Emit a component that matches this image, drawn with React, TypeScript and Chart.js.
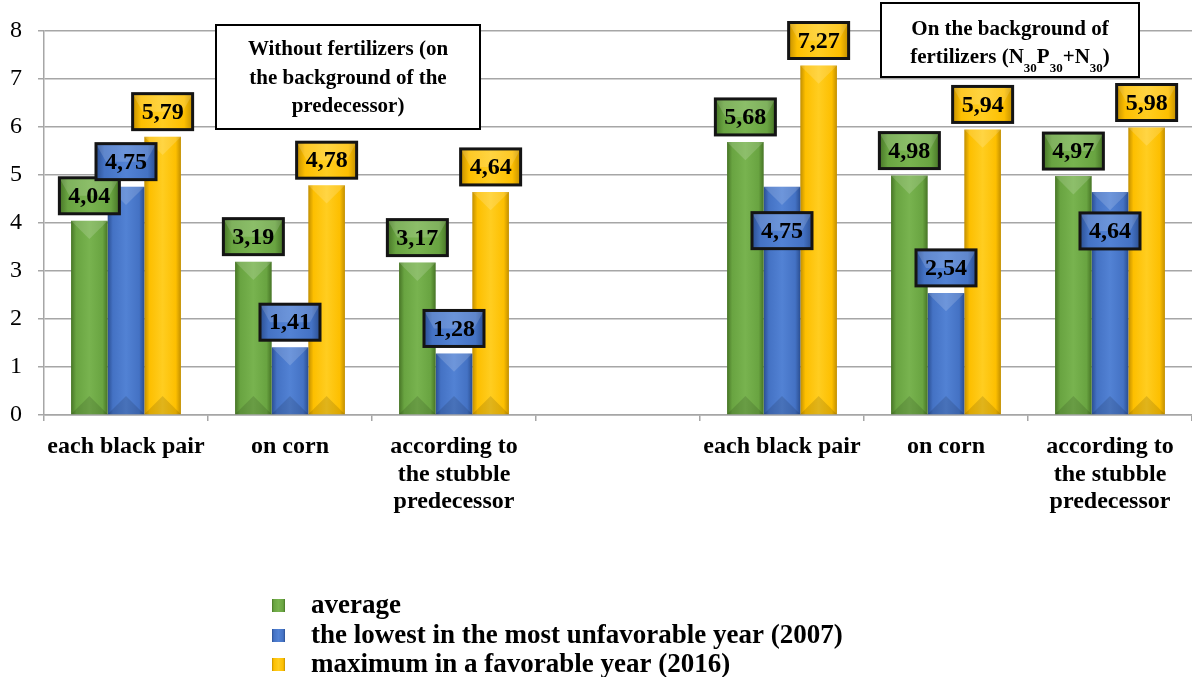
import React, { useEffect, useRef } from "react";
import { Chart, registerables } from "chart.js";

Chart.register(...registerables);

const categories: (string | string[])[] = [
  "each black pair",
  "on corn",
  ["according to", "the stubble", "predecessor"],
  "",
  "each black pair",
  "on corn",
  ["according to", "the stubble", "predecessor"],
];
const averageValues = [4.04, 3.19, 3.17, null, 5.68, 4.98, 4.97];
const lowestValues = [4.75, 1.41, 1.28, null, 4.75, 2.54, 4.64];
const maximumValues = [5.79, 4.78, 4.64, null, 7.27, 5.94, 5.98];
const seriesNames = [
  "average",
  "the lowest in the most unfavorable year (2007)",
  "maximum in a favorable year (2016)",
];
const yMin = 0;
const yMax = 8;
const yStep = 1;
const noteLeft = ["Without fertilizers (on", "the background of the", "predecessor)"];
const noteRightLine1 = "On the background of";

const FONT = "'Liberation Serif', 'Times New Roman', Times, serif";
const CAT_PCT = 0.67;

const palette = [
  { dark: "#477526", mid: "#69a441", light: "#78b34f" },
  { dark: "#2b4f92", mid: "#4472c4", light: "#5282d4" },
  { dark: "#c28f00", mid: "#fdbf00", light: "#ffcd20" },
];

function barGradient(g2: CanvasRenderingContext2D, left: number, right: number, c: { dark: string; mid: string; light: string }) {
  const g = g2.createLinearGradient(left, 0, right, 0);
  g.addColorStop(0, c.dark);
  g.addColorStop(0.14, c.mid);
  g.addColorStop(0.5, c.light);
  g.addColorStop(0.86, c.mid);
  g.addColorStop(1, c.dark);
  return g;
}

const fmt = (v: number) => v.toFixed(2).replace(".", ",");

const decorPlugin = {
  id: "decor",
  afterDatasetsDraw(chart: any, _args: any, opts: any) {
    const ctx: CanvasRenderingContext2D = chart.ctx;
    const shifts: Record<string, number> = opts.shifts || {};
    // bevel highlights
    chart.data.datasets.forEach((_ds: any, di: number) => {
      const meta = chart.getDatasetMeta(di);
      meta.data.forEach((bar: any) => {
        if (!isFinite(bar.y)) return;
        const l = bar.x - bar.width / 2;
        const r = bar.x + bar.width / 2;
        const d = Math.min(bar.width / 2, Math.abs(bar.base - bar.y) / 2);
        ctx.save();
        ctx.beginPath();
        ctx.moveTo(l, bar.y);
        ctx.lineTo(r, bar.y);
        ctx.lineTo(bar.x, bar.y + d);
        ctx.closePath();
        ctx.fillStyle = "rgba(255,255,255,0.16)";
        ctx.fill();
        ctx.beginPath();
        ctx.moveTo(l, bar.base);
        ctx.lineTo(r, bar.base);
        ctx.lineTo(bar.x, bar.base - d);
        ctx.closePath();
        ctx.fillStyle = "rgba(0,0,0,0.12)";
        ctx.fill();
        ctx.restore();
      });
    });
    // value boxes
    chart.data.datasets.forEach((ds: any, di: number) => {
      const meta = chart.getDatasetMeta(di);
      meta.data.forEach((bar: any, i: number) => {
        const v = ds.data[i];
        if (v == null || !isFinite(bar.y)) return;
        const w = 60;
        const h = 36;
        const shift = shifts[`${di}-${i}`] || 0;
        const top = bar.y - 7 - h + shift;
        const left = bar.x - w / 2;
        ctx.save();
        ctx.fillStyle = barGradient(ctx, left, left + w, palette[di]);
        ctx.fillRect(left, top, w, h);
        ctx.beginPath();
        ctx.moveTo(left, top);
        ctx.lineTo(left + w, top);
        ctx.lineTo(left + w - 10, top + h / 2);
        ctx.lineTo(left + 10, top + h / 2);
        ctx.closePath();
        ctx.fillStyle = "rgba(255,255,255,0.15)";
        ctx.fill();
        ctx.lineWidth = 3;
        ctx.strokeStyle = "#141414";
        ctx.strokeRect(left, top, w, h);
        ctx.fillStyle = "#000";
        ctx.font = `bold 24px ${FONT}`;
        ctx.textAlign = "center";
        ctx.textBaseline = "middle";
        ctx.fillText(fmt(v), bar.x, top + h / 2 + 1);
        ctx.restore();
      });
    });
  },
  afterDraw(chart: any) {
    const ctx: CanvasRenderingContext2D = chart.ctx;
    ctx.save();
    // left note
    ctx.fillStyle = "#fff";
    ctx.fillRect(216, 25, 264, 104);
    ctx.lineWidth = 2;
    ctx.strokeStyle = "#000";
    ctx.strokeRect(216, 25, 264, 104);
    ctx.fillStyle = "#000";
    ctx.font = `bold 21px ${FONT}`;
    ctx.textAlign = "center";
    ctx.textBaseline = "alphabetic";
    noteLeft.forEach((t, k) => ctx.fillText(t, 348, 55 + k * 28.5));
    // right note
    ctx.fillStyle = "#fff";
    ctx.fillRect(881, 3, 258, 74);
    ctx.strokeRect(881, 3, 258, 74);
    ctx.fillStyle = "#000";
    ctx.fillText(noteRightLine1, 1010, 35);
    const parts: [string, boolean][] = [
      ["fertilizers (N", false],
      ["30", true],
      ["P", false],
      ["30", true],
      ["+N", false],
      ["30", true],
      [")", false],
    ];
    const big = `bold 21px ${FONT}`;
    const small = `bold 13px ${FONT}`;
    let total = 0;
    parts.forEach(([t, sub]) => {
      ctx.font = sub ? small : big;
      total += ctx.measureText(t).width;
    });
    let x = 1010 - total / 2;
    ctx.textAlign = "left";
    parts.forEach(([t, sub]) => {
      ctx.font = sub ? small : big;
      ctx.fillText(t, x, sub ? 72 : 63);
      x += ctx.measureText(t).width;
    });
    // legend
    const rows = [606, 636, 665];
    chart.data.datasets.forEach((ds: any, di: number) => {
      const y = rows[di];
      ctx.fillStyle = barGradient(ctx, 272, 285, palette[di]);
      ctx.fillRect(272, y - 7, 13, 13);
      ctx.fillStyle = "#000";
      ctx.font = `bold 27px ${FONT}`;
      ctx.textAlign = "left";
      ctx.textBaseline = "middle";
      ctx.fillText(ds.label, 311, y);
    });
    ctx.restore();
  },
};

export default function App() {
  const ref = useRef<HTMLCanvasElement | null>(null);
  useEffect(() => {
    document.body.style.margin = "0";
    const canvas = ref.current!;
    const series = [averageValues, lowestValues, maximumValues];
    const chart = new Chart(canvas, {
      type: "bar",
      data: {
        labels: categories as any,
        datasets: series.map((d, di) => ({
          label: seriesNames[di],
          data: d as any,
          categoryPercentage: CAT_PCT,
          barPercentage: 1,
          borderWidth: 0,
          backgroundColor: (sc: any) => {
            const c = palette[di];
            const xs = sc.chart.scales?.x;
            if (!xs || sc.dataIndex == null) return c.mid;
            const center = xs.getPixelForValue(sc.dataIndex);
            const cw = xs.getPixelForValue(1) - xs.getPixelForValue(0);
            const gw = cw * CAT_PCT;
            const bw = gw / 3;
            const left = center - gw / 2 + di * bw;
            if (!isFinite(left)) return c.mid;
            return barGradient(sc.chart.ctx, left, left + bw, c);
          },
        })),
      },
      options: {
        responsive: true,
        maintainAspectRatio: false,
        animation: false,
        layout: { padding: { top: 28, left: 0, right: 0, bottom: 0 } },
        plugins: {
          legend: { display: false },
          tooltip: { enabled: false },
          decor: { shifts: { "1-4": 69, "1-6": 64 } },
        } as any,
        scales: {
          x: {
            grid: {
              offset: true,
              drawOnChartArea: false,
              drawTicks: true,
              tickLength: 6,
              color: "#a6a6a6",
              lineWidth: 1.5,
            },
            border: { color: "#a6a6a6", width: 1.5 },
            ticks: {
              color: "#000",
              font: { family: FONT, size: 24, weight: "bold", lineHeight: 1.15 },
              padding: 12,
              maxRotation: 0,
              autoSkip: false,
            },
            afterFit: (s: any) => {
              s.height = 262;
            },
          },
          y: {
            min: yMin,
            max: yMax,
            ticks: {
              stepSize: yStep,
              color: "#000",
              font: { family: FONT, size: 24 },
              padding: 16,
            },
            grid: { color: "#a6a6a6", lineWidth: 1.5, tickLength: 6 },
            border: { color: "#a6a6a6", width: 1.5 },
            afterFit: (s: any) => {
              s.width = 44;
            },
          },
        },
      },
      plugins: [decorPlugin as any],
    });
    return () => chart.destroy();
  }, []);
  return (
    <div style={{ width: 1192, height: 677, position: "relative", background: "#fff" }}>
      <canvas ref={ref} />
    </div>
  );
}
